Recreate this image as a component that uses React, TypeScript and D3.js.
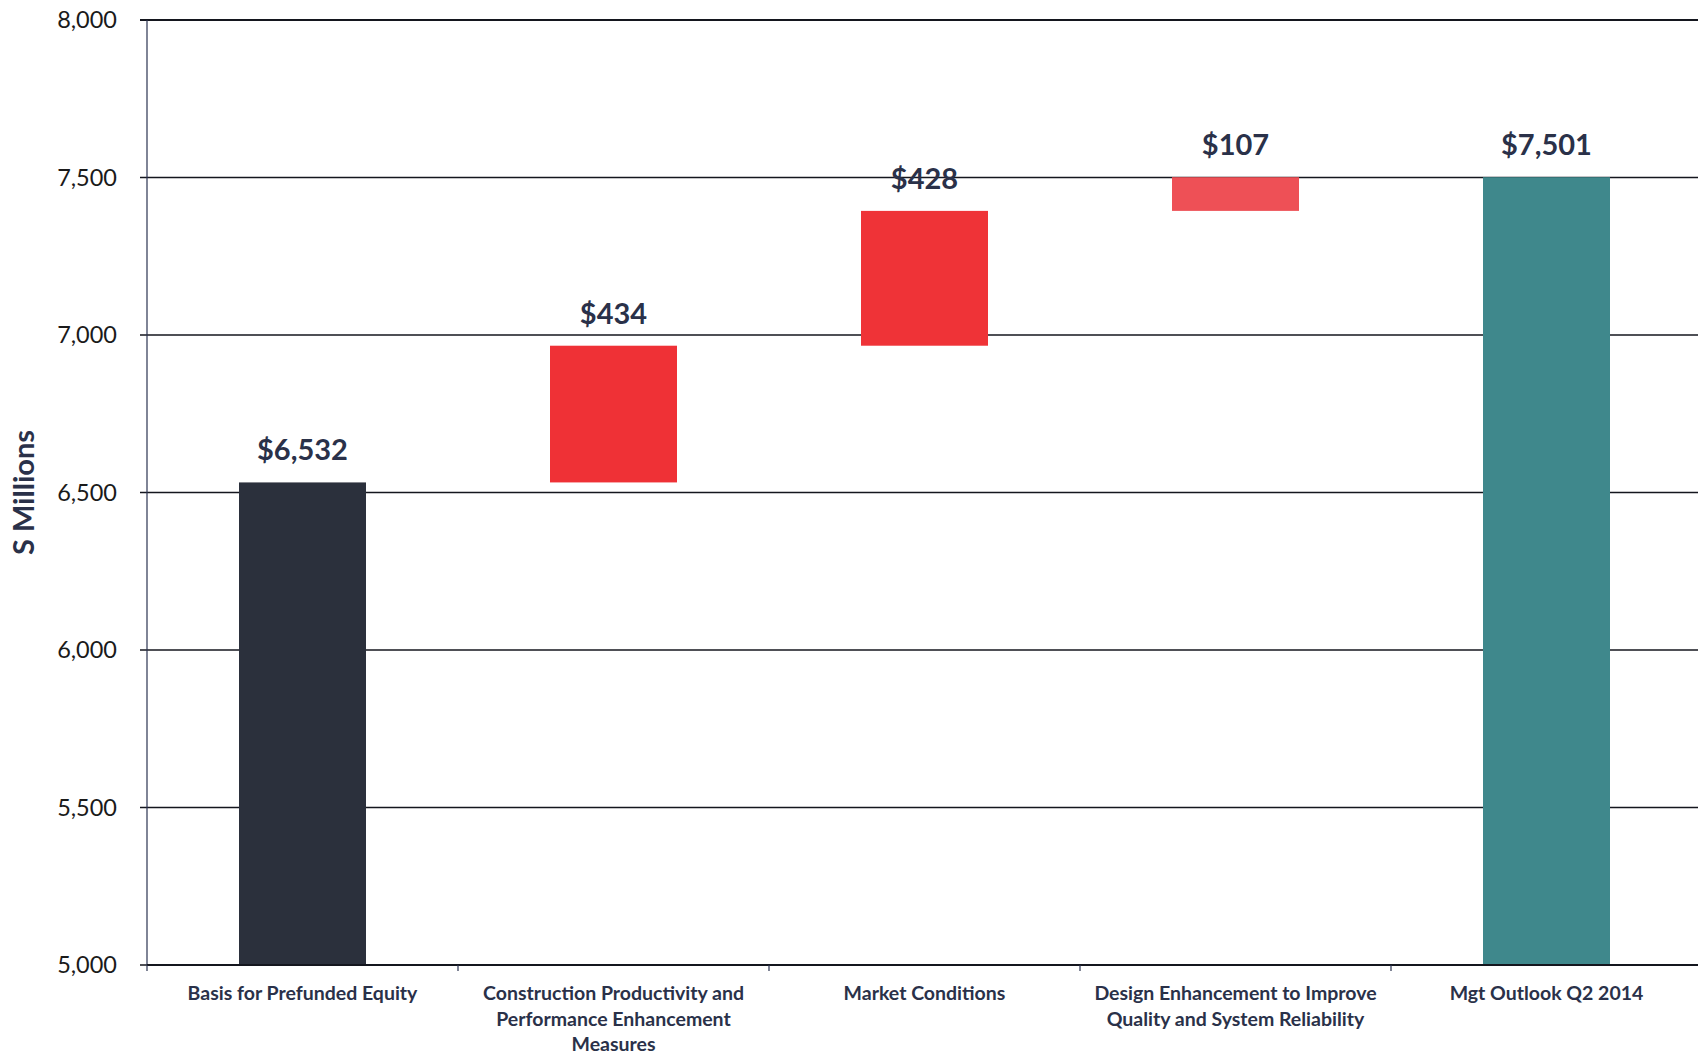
import React from "react";
import * as d3 from "d3";

const categories: string[][] = [
  ["Basis for Prefunded Equity"],
  ["Construction Productivity and", "Performance Enhancement", "Measures"],
  ["Market Conditions"],
  ["Design Enhancement to Improve", "Quality and System Reliability"],
  ["Mgt Outlook Q2 2014"],
];
const deltas = [6532, 434, 428, 107, 7501];
const kinds = ["base", "inc", "inc", "inc", "total"];
const valueLabels = ["$6,532", "$434", "$428", "$107", "$7,501"];
const yTicks = [5000, 5500, 6000, 6500, 7000, 7500, 8000];

const W = 1698;
const H = 1057;
const left = 147;
const top = 20;
const bottom = 965;
const bandW = 311;

export default function App() {
  const x = d3
    .scaleBand<number>()
    .domain(d3.range(categories.length))
    .range([left, left + bandW * categories.length])
    .paddingInner(0)
    .paddingOuter(0);
  const y = d3.scaleLinear().domain([5000, 8000]).range([bottom, top]);

  let running = 0;
  const bars = deltas.map((v, i) => {
    let y0: number, y1: number;
    if (kinds[i] === "base" || kinds[i] === "total") {
      y0 = 5000;
      y1 = v;
      running = v;
    } else {
      y0 = running;
      y1 = running + v;
      running = y1;
    }
    return { i, y0, y1 };
  });

  const colors = ["#2b303c", "#ef3136", "#ef3337", "#ee5056", "#3f888c"];
  const barW = 127;
  const textColor = "#2a3149";
  const font = "Lato, 'Open Sans', sans-serif";

  return (
    <svg
      width={W}
      height={H}
      style={{ position: "absolute", left: 0, top: 0, background: "#fff" }}
      fontFamily={font}
    >
      {yTicks.map((t) => (
        <line
          key={"g" + t}
          x1={left - 7}
          x2={W}
          y1={y(t)}
          y2={y(t)}
          stroke="#14161e"
          strokeWidth={t === 8000 ? 2 : 1.6}
        />
      ))}
      <line x1={left} x2={left} y1={top} y2={bottom} stroke="#2a3350" strokeWidth={1.2} />
      {yTicks.map((t) => (
        <text
          key={"t" + t}
          x={117}
          y={y(t)}
          dy="0.36em"
          textAnchor="end"
          fontSize={23.5}
          fill="#1a1a1a"
        >
          {d3.format(",")(t)}
        </text>
      ))}
      <text
        transform={`translate(34,${(top + bottom) / 2}) rotate(-90)`}
        textAnchor="middle"
        fontSize={29}
        fontWeight={700}
        fill={textColor}
      >
        S Millions
      </text>
      {bars.map((b) => {
        const cx = (x(b.i) as number) + x.bandwidth() / 2;
        return (
          <rect
            key={"b" + b.i}
            x={cx - barW / 2}
            width={barW}
            y={y(b.y1)}
            height={y(b.y0) - y(b.y1)}
            fill={colors[b.i]}
          />
        );
      })}
      <line x1={left} x2={W} y1={bottom} y2={bottom} stroke="#14161e" strokeWidth={1.8} />
      {d3.range(categories.length + 1).map((i) => (
        <line
          key={"xt" + i}
          x1={left + i * bandW}
          x2={left + i * bandW}
          y1={bottom}
          y2={bottom + 6}
          stroke="#2a3350"
          strokeWidth={1.2}
        />
      ))}
      {bars.map((b) => {
        const cx = (x(b.i) as number) + x.bandwidth() / 2;
        return (
          <text
            key={"v" + b.i}
            x={cx}
            y={y(b.y1) - 22}
            textAnchor="middle"
            fontSize={29}
            fontWeight={700}
            fill={textColor}
          >
            {valueLabels[b.i]}
          </text>
        );
      })}
      {categories.map((lines, i) => {
        const cx = (x(i) as number) + x.bandwidth() / 2;
        return (
          <text
            key={"c" + i}
            x={cx}
            y={1000}
            textAnchor="middle"
            fontSize={19.5}
            fontWeight={700}
            fill={textColor}
          >
            {lines.map((l, j) => (
              <tspan key={j} x={cx} dy={j === 0 ? 0 : 25.5}>
                {l}
              </tspan>
            ))}
          </text>
        );
      })}
    </svg>
  );
}
